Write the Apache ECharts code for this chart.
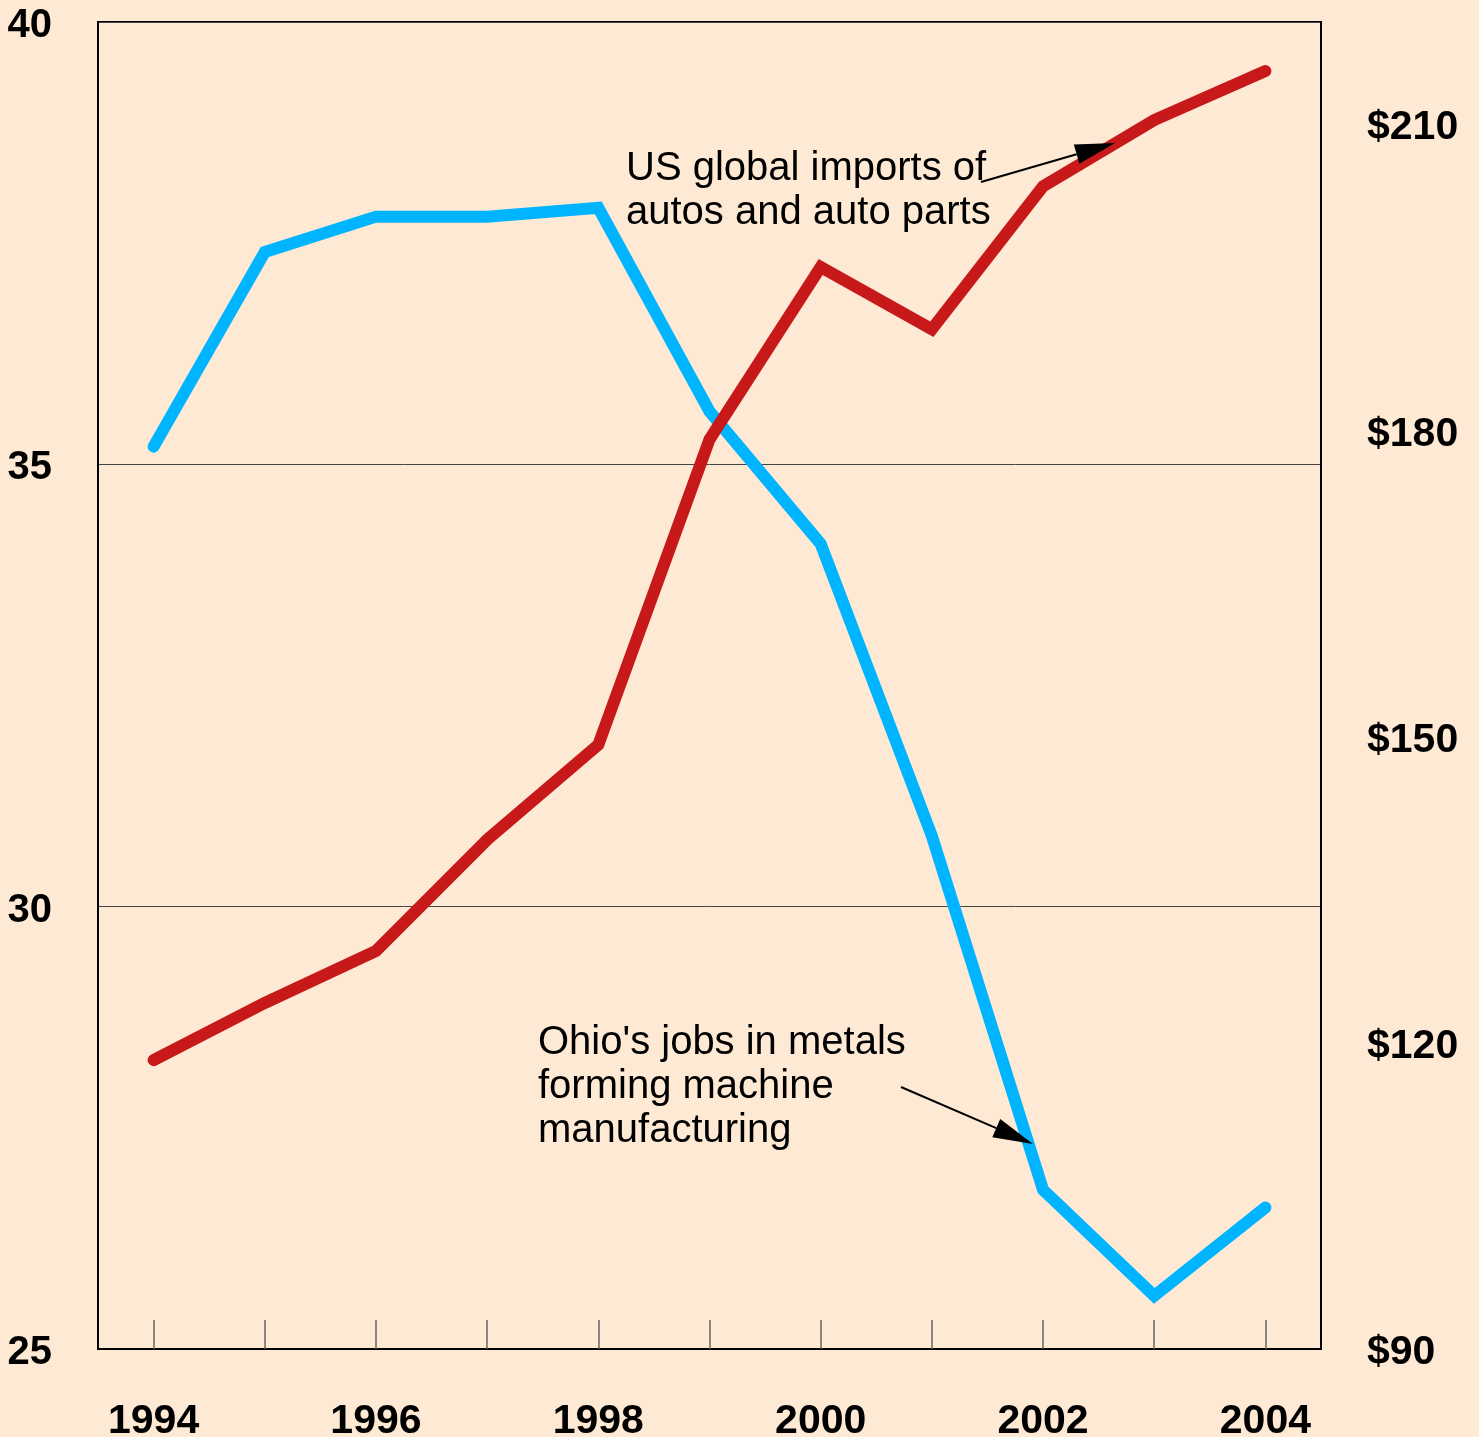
<!DOCTYPE html>
<html>
<head>
<meta charset="utf-8">
<script src="https://cdn.jsdelivr.net/npm/echarts@6/dist/echarts.min.js"></script>
<style>
html,body{margin:0;padding:0;background:#FEEAD4;}
#chart{width:1479px;height:1437px;}
</style>
</head>
<body>
<div id="chart"></div>
<script>
var years = ['1994','1995','1996','1997','1998','1999','2000','2001','2002','2003','2004'];
// Ohio's jobs in metals forming machine manufacturing (thousands, left axis)
var ohioJobs = [35.2, 37.4, 37.8, 37.8, 37.9, 35.6, 34.1, 30.8, 26.8, 25.6, 26.6];
// US global imports of autos and auto parts ($ billions, right axis)
var usImports = [118.3, 123.9, 129.0, 139.9, 149.2, 179.1, 196.0, 189.9, 203.9, 210.4, 215.2];
var leftTicks = {min: 25, max: 40, interval: 5};
var rightTicks = {min: 90, max: 220, interval: 30};

var FONT = 'Liberation Sans, Arial, sans-serif';
var chart = echarts.init(document.getElementById('chart'));

function arrow(x1, y1, x2, y2, len, half) {
  var dx = x2 - x1, dy = y2 - y1, d = Math.sqrt(dx*dx + dy*dy);
  var ux = dx / d, uy = dy / d, px = -uy, py = ux;
  var bx = x2 - ux * len, by = y2 - uy * len;
  return [
    {type: 'line', shape: {x1: x1, y1: y1, x2: bx, y2: by}, style: {stroke: '#000', lineWidth: 2}, z: 10},
    {type: 'polygon', shape: {points: [[x2, y2], [bx + px*half, by + py*half], [bx - px*half, by - py*half]]}, style: {fill: '#000'}, z: 10}
  ];
}
function label(text, x, y) {
  return {type: 'text', x: x, y: y, z: 10,
    style: {text: text, font: '40px ' + FONT, fill: '#000', textVerticalAlign: 'middle', textAlign: 'left'}};
}

var graphics = []
  .concat([label('US global imports of', 626, 169), label('autos and auto parts', 626, 213)])
  .concat([label("Ohio's jobs in metals", 538, 1043), label('forming machine', 538, 1087), label('manufacturing', 538, 1131)])
  .concat(arrow(981, 182, 1115, 143, 40, 10))
  .concat(arrow(901, 1087, 1033, 1144, 40, 10));

chart.setOption({
  backgroundColor: '#FEEAD4',
  animation: false,
  grid: {left: 98, right: 158, top: 22, bottom: 88, containLabel: false, outerBoundsMode: 'none',
    show: true, borderColor: '#000', borderWidth: 2, backgroundColor: 'transparent'},
  xAxis: {
    type: 'category', data: years, boundaryGap: true,
    axisLine: {show: true, lineStyle: {color: '#000', width: 2}},
    axisTick: {show: true, inside: true, length: 29, alignWithLabel: true, interval: 0, lineStyle: {color: '#666', width: 1.5}},
    axisLabel: {interval: 1, margin: 52, color: '#000', fontWeight: 'bold', fontSize: 41, fontFamily: FONT},
    splitLine: {show: false}
  },
  yAxis: [{
    type: 'value', min: leftTicks.min, max: leftTicks.max, interval: leftTicks.interval, position: 'left',
    axisLine: {show: true, lineStyle: {color: '#000', width: 2}},
    axisTick: {show: false},
    axisLabel: {margin: 46, color: '#000', fontFamily: FONT,
      formatter: function (v) { return '{a|' + v + '}'; },
      rich: {a: {fontWeight: 'bold', fontSize: 40, fontFamily: FONT, color: '#000', padding: [8, 0, 0, 0]}}},
    splitLine: {show: true, lineStyle: {color: '#444', width: 1}}
  }, {
    type: 'value', min: rightTicks.min, max: rightTicks.max, interval: rightTicks.interval, position: 'right',
    axisLine: {show: true, lineStyle: {color: '#000', width: 2}},
    axisTick: {show: false},
    axisLabel: {margin: 46, color: '#000', fontFamily: FONT,
      formatter: function (v) { return (v - rightTicks.min) % rightTicks.interval === 0 && v < rightTicks.max ? '{a|$' + v + '}' : ''; },
      rich: {a: {fontWeight: 'bold', fontSize: 41, fontFamily: FONT, color: '#000', padding: [8, 0, 0, 0]}}},
    splitLine: {show: false}
  }],
  series: [{
    name: "Ohio's jobs in metals forming machine manufacturing", type: 'line', yAxisIndex: 0,
    data: ohioJobs, symbol: 'none', z: 3,
    lineStyle: {color: '#00B4FF', width: 12, cap: 'round', join: 'miter'}
  }, {
    name: 'US global imports of autos and auto parts', type: 'line', yAxisIndex: 1,
    data: usImports, symbol: 'none', z: 4,
    lineStyle: {color: '#C8191A', width: 12, cap: 'round', join: 'miter'}
  }],
  graphic: graphics
});
</script>
</body>
</html>
